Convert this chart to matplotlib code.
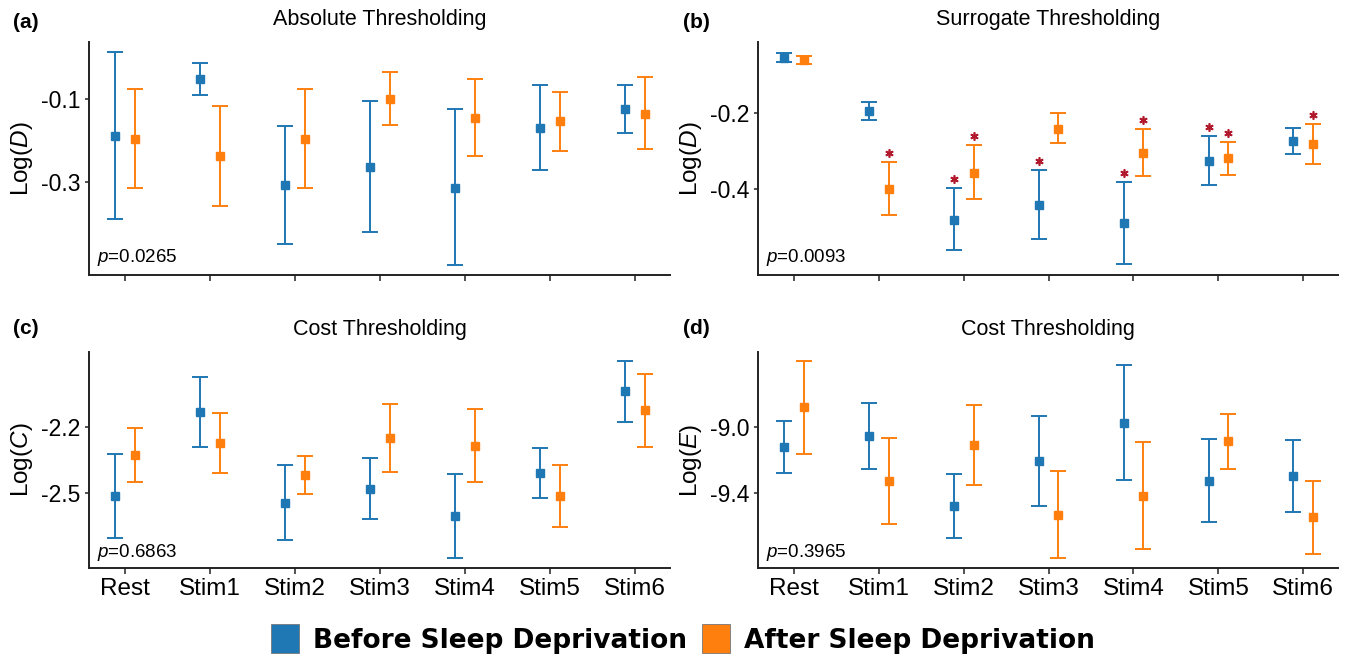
import numpy as np
import matplotlib
matplotlib.use('Agg')
import matplotlib.pyplot as plt
import matplotlib.transforms as mtransforms
from matplotlib.patches import Patch

plt.rcParams['font.family'] = 'Liberation Sans'
plt.rcParams['mathtext.fontset'] = 'custom'
plt.rcParams['mathtext.rm'] = 'Liberation Sans'
plt.rcParams['mathtext.it'] = 'Liberation Sans:italic'
plt.rcParams['axes.unicode_minus'] = False

# Categories
conditions = ['Rest', 'Stim1', 'Stim2', 'Stim3', 'Stim4', 'Stim5', 'Stim6']

# (a) Absolute thresholding, Log(D)
a_before = [-0.189, -0.052, -0.308, -0.265, -0.314, -0.170, -0.125]
a_before_lo = [-0.390, -0.091, -0.450, -0.421, -0.500, -0.271, -0.182]
a_before_hi = [0.012, -0.014, -0.165, -0.106, -0.126, -0.068, -0.068]
a_after = [-0.197, -0.239, -0.196, -0.100, -0.147, -0.155, -0.136]
a_after_lo = [-0.315, -0.358, -0.314, -0.164, -0.239, -0.226, -0.222]
a_after_hi = [-0.078, -0.119, -0.078, -0.035, -0.053, -0.085, -0.049]

# (b) Surrogate thresholding, Log(D)
b_before = [-0.054, -0.195, -0.481, -0.442, -0.491, -0.326, -0.274]
b_before_lo = [-0.066, -0.218, -0.562, -0.532, -0.599, -0.390, -0.308]
b_before_hi = [-0.041, -0.172, -0.399, -0.350, -0.383, -0.262, -0.240]
b_after = [-0.061, -0.400, -0.357, -0.241, -0.306, -0.320, -0.283]
b_after_lo = [-0.072, -0.469, -0.427, -0.280, -0.367, -0.364, -0.334]
b_after_hi = [-0.050, -0.330, -0.284, -0.201, -0.243, -0.277, -0.230]
b_before_sig = [False, False, True, True, True, True, False]
b_after_sig = [False, True, True, False, True, True, True]

# (c) Cost thresholding, Log(C)
c_before = [-2.517, -2.131, -2.546, -2.483, -2.607, -2.410, -2.037]
c_before_lo = [-2.707, -2.291, -2.718, -2.623, -2.800, -2.524, -2.176]
c_before_hi = [-2.325, -1.972, -2.372, -2.340, -2.413, -2.294, -1.898]
c_after = [-2.329, -2.273, -2.422, -2.252, -2.285, -2.517, -2.124]
c_after_lo = [-2.451, -2.410, -2.509, -2.406, -2.451, -2.658, -2.293]
c_after_hi = [-2.205, -2.136, -2.332, -2.096, -2.118, -2.375, -1.955]

# (d) Cost thresholding, Log(E)
d_before = [-9.122, -9.055, -9.481, -9.209, -8.972, -9.327, -9.301]
d_before_lo = [-9.282, -9.256, -9.676, -9.485, -9.321, -9.579, -9.520]
d_before_hi = [-8.961, -8.852, -9.284, -8.931, -8.618, -9.071, -9.079]
d_after = [-8.880, -9.331, -9.110, -9.536, -9.420, -9.087, -9.552]
d_after_lo = [-9.162, -9.593, -9.351, -9.800, -9.745, -9.256, -9.774]
d_after_hi = [-8.598, -9.065, -8.862, -9.268, -9.091, -8.919, -9.327]

p_values = ['0.0265', '0.0093', '0.6863', '0.3965']
titles = ['Absolute Thresholding', 'Surrogate Thresholding', 'Cost Thresholding', 'Cost Thresholding']
ylabels = [r'Log($\mathit{D}$)', r'Log($\mathit{D}$)', r'Log($\mathit{C}$)', r'Log($\mathit{E}$)']
yticks = [[-0.1, -0.3], [-0.2, -0.4], [-2.2, -2.5], [-9.0, -9.4]]
ylims = [(-0.524, 0.036), (-0.627, -0.013), (-2.846, -1.856), (-9.861, -8.541)]
panel_tags = ['(a)', '(b)', '(c)', '(d)']

blue = '#1f77b4'
orange = '#ff7f0e'
star_color = '#b2182b'
dodge = 0.115

fig = plt.figure(figsize=(13.49, 6.59), dpi=100)
W, H = 1349.0, 659.0
boxes = [(89, 42, 670, 275), (758, 42, 1338, 275), (89, 352, 670, 568), (758, 352, 1338, 568)]
axes = []
for (x0, y0, x1, y1) in boxes:
    axes.append(fig.add_axes([x0 / W, 1 - y1 / H, (x1 - x0) / W, (y1 - y0) / H]))

panels = [
    (a_before, a_before_lo, a_before_hi, a_after, a_after_lo, a_after_hi),
    (b_before, b_before_lo, b_before_hi, b_after, b_after_lo, b_after_hi),
    (c_before, c_before_lo, c_before_hi, c_after, c_after_lo, c_after_hi),
    (d_before, d_before_lo, d_before_hi, d_after, d_after_lo, d_after_hi),
]

x = np.arange(len(conditions))
for i, ax in enumerate(axes):
    bm, blo, bhi, am, alo, ahi = [np.array(v) for v in panels[i]]
    for xs, m, lo, hi, col in [(x - dodge, bm, blo, bhi, blue), (x + dodge, am, alo, ahi, orange)]:
        ax.errorbar(xs, m, yerr=[m - lo, hi - m], fmt='s', color=col, ecolor=col,
                    markersize=6, elinewidth=1.4, capsize=6, capthick=1.4)
    if i == 1:
        tr = mtransforms.offset_copy(ax.transData, fig=fig, y=9, units='dots')
        for sig, xs, hi in [(b_before_sig, x - dodge, bhi), (b_after_sig, x + dodge, ahi)]:
            sig = np.array(sig)
            ax.plot(xs[sig], hi[sig], linestyle='none', marker=(6, 2, 0), markersize=6,
                    color=star_color, markeredgewidth=1.2, transform=tr)

    ax.set_xlim(-0.425, 6.41)
    ax.set_ylim(*ylims[i])
    ax.set_xticks(x)
    if i >= 2:
        ax.set_xticklabels(conditions, fontsize=17.5)
    else:
        ax.set_xticklabels([])
    ax.set_yticks(yticks[i])
    ax.set_yticklabels(['%.1f' % t for t in yticks[i]], fontsize=16.5)
    ax.tick_params(axis='x', length=4, width=1.2, color='#333333', pad=3)
    ax.tick_params(axis='y', length=3, width=1.2, color='#333333', pad=3)
    for s in ['top', 'right']:
        ax.spines[s].set_visible(False)
    for s in ['left', 'bottom']:
        ax.spines[s].set_linewidth(1.4)
        ax.spines[s].set_color('#222222')
    ax.set_ylabel(ylabels[i], fontsize=17.5, va='center')
    ax.yaxis.set_label_coords(-0.116, 0.5)
    ax.annotate(titles[i], xy=(0.5, 1), xycoords='axes fraction', xytext=(0, 16),
                textcoords='offset points', ha='center', va='center', fontsize=15.5)
    ax.text(0.014, 0.074, r'$p$=' + p_values[i], transform=ax.transAxes,
            ha='left', va='center', fontsize=13.5)

tag_pos = [(26, 22), (696, 22), (26, 329), (696, 329)]
for tag, (tx, ty) in zip(panel_tags, tag_pos):
    fig.text(tx / W, 1 - ty / H, tag, fontsize=15, fontweight='bold', ha='center', va='center')

handles = [Patch(facecolor=blue, edgecolor='#777777', linewidth=0.6),
           Patch(facecolor=orange, edgecolor='#777777', linewidth=0.6)]
fig.legend(handles, ['Before Sleep Deprivation', 'After Sleep Deprivation'],
           loc='center', bbox_to_anchor=(683 / W, 1 - 639 / H), ncol=2, frameon=False,
           prop={'family': 'DejaVu Sans', 'weight': 'bold', 'size': 19},
           handlelength=1.05, handleheight=1.3, handletextpad=0.55, columnspacing=0.55)

plt.savefig('out.png', dpi=100)
